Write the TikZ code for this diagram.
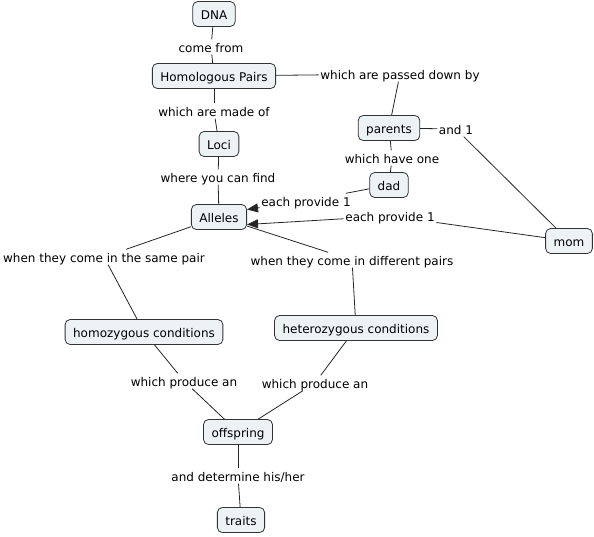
\documentclass[tikz,border=0pt]{standalone}
\usepackage{fontspec}
\setmainfont{DejaVu Sans}
\usepackage{xcolor}
\usepackage{tikz}
\usetikzlibrary{arrows.meta}
\definecolor{cmapfill}{HTML}{EDF3F5}

\begin{document}
\begin{tikzpicture}[x=1pt,y=-1pt,>={Triangle[length=11pt,width=9pt]},
  concept/.style={draw=black!80,fill=cmapfill,rounded corners=5pt,line width=0.8pt,inner xsep=8pt,minimum height=25pt,text height=11pt,text depth=1pt,font=\fontsize{12}{14}\selectfont},
  phrase/.style={inner sep=1.5pt,text height=11pt,text depth=1pt,font=\fontsize{12}{14}\selectfont},
  link/.style={black!85,line width=0.8pt}]
  \useasboundingbox (0,0) rectangle (594,536);
  % concepts
  \node[concept] (dna) at (214,14) {DNA};
  \node[concept] (pairs) at (214,76) {Homologous Pairs};
  \node[concept] (loci) at (219,144) {Loci};
  \node[concept] (alleles) at (219,217) {Alleles};
  \node[concept] (parents) at (389,128) {parents};
  \node[concept] (dad) at (389,185) {dad};
  \node[concept] (mom) at (569,241) {mom};
  \node[concept] (homo) at (144,332) {homozygous conditions};
  \node[concept] (hetero) at (356,328) {heterozygous conditions};
  \node[concept] (offspring) at (238,432) {offspring};
  \node[concept] (traits) at (241,520) {traits};
  % linking phrases
  \node[phrase] (comefrom) at (211,47) {come from};
  \node[phrase] (madeof) at (214,111) {which are made of};
  \node[phrase] (passed) at (400,74) {which are passed down by};
  \node[phrase] (andone) at (456,129) {and 1};
  \node[phrase] (haveone) at (392,158) {which have one};
  \node[phrase] (canfind) at (218,177) {where you can find};
  \node[phrase] (provdad) at (306,201) {each provide 1};
  \node[phrase] (provmom) at (390,216) {each provide 1};
  \node[phrase] (samepair) at (104,257) {when they come in the same pair};
  \node[phrase] (diffpair) at (352,260) {when they come in different pairs};
  \node[phrase] (prodhomo) at (184,381) {which produce an};
  \node[phrase] (prodhetero) at (315,383) {which produce an};
  \node[phrase] (determine) at (238,476) {and determine his/her};
  % connections
  \draw[link] (dna) -- (comefrom);
  \draw[link] (comefrom) -- (pairs);
  \draw[link] (pairs) -- (madeof);
  \draw[link] (madeof) -- (loci);
  \draw[link] (pairs) -- (passed);
  \draw[link] (passed) -- (parents);
  \draw[link] (parents) -- (andone);
  \draw[link] (andone) -- (mom);
  \draw[link] (parents) -- (haveone);
  \draw[link] (haveone) -- (dad);
  \draw[link] (loci) -- (canfind);
  \draw[link] (canfind) -- (alleles);
  \draw[link] (dad) -- (provdad);
  \draw[link,->] (provdad) -- (alleles.15);
  \draw[link] (mom) -- (provmom);
  \draw[link,->] (provmom) -- (alleles.-15);
  \draw[link] (alleles) -- (samepair);
  \draw[link] (samepair) -- (homo);
  \draw[link] (alleles) -- (diffpair);
  \draw[link] (diffpair) -- (hetero);
  \draw[link] (homo) -- (prodhomo);
  \draw[link] (prodhomo) -- (offspring);
  \draw[link] (hetero) -- (prodhetero);
  \draw[link] (prodhetero) -- (offspring);
  \draw[link] (offspring) -- (determine);
  \draw[link] (determine) -- (traits);
\end{tikzpicture}
\end{document}
